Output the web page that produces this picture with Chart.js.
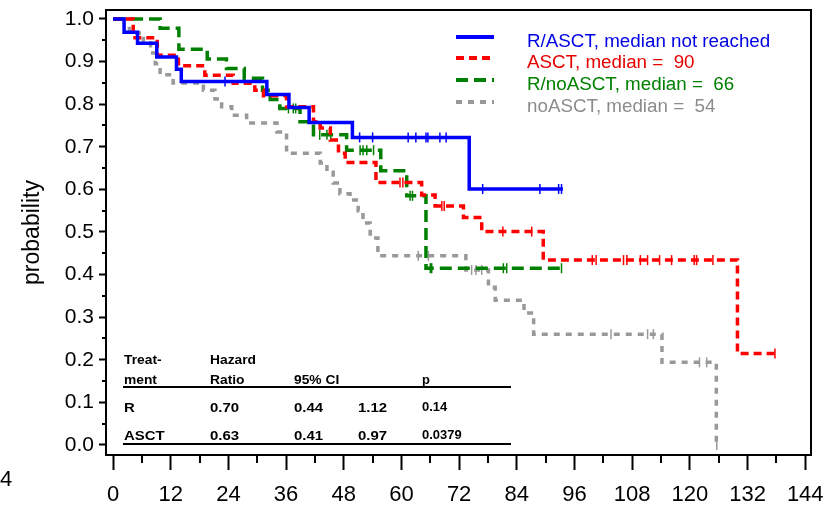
<!DOCTYPE html>
<html>
<head>
<meta charset="utf-8">
<script src="https://cdn.jsdelivr.net/npm/chart.js@4/dist/chart.umd.min.js"></script>
<style>
html,body{margin:0;padding:0;background:#fff;}
#wrap{position:relative;width:824px;height:505px;overflow:hidden;font-family:Arial,"Liberation Sans",sans-serif;}
#c{position:absolute;left:0;top:0;}
.t{position:absolute;white-space:pre;line-height:1;transform-origin:0 50%;}
.rule{position:absolute;height:2px;background:#000;}
</style>
</head>
<body>
<div id="wrap"><canvas id="c" width="824" height="505"></canvas></div>
<script>
// ---------- data (months, survival probability) ----------
const xTicks = [0, 12, 24, 36, 48, 60, 72, 84, 96, 108, 120, 132, 144];
const xMinorTicks = [6, 18, 30, 42, 54, 66, 78, 90, 102, 114, 126, 138];
const yTicks = [0.0, 0.1, 0.2, 0.3, 0.4, 0.5, 0.6, 0.7, 0.8, 0.9, 1.0];
const yMinorTicks = [0.05, 0.15, 0.25, 0.35, 0.45, 0.55, 0.65, 0.75, 0.85, 0.95];

const seriesLabels = ["R/ASCT, median not reached", "ASCT, median =  90", "R/noASCT, median =  66", "noASCT, median =  54"];

const rasctTimes = [0, 2.3, 5.1, 9.1, 13.2, 14.2, 32.0, 36.6, 40.8, 49.8, 74.1, 93.6];
const rasctSurv  = [1.0, 0.969, 0.943, 0.911, 0.882, 0.853, 0.823, 0.792, 0.757, 0.722, 0.601, 0.601];
const rasctCensor = [23.3, 51.3, 54.0, 61.4, 63.0, 65.1, 65.5, 68.0, 69.3, 76.9, 88.8, 92.7, 93.3];

const asctTimes = [0, 4.2, 9.2, 13.6, 19.1, 25.0, 29.5, 31.3, 36.1, 41.7, 43.1, 45.2, 46.9, 48.3, 54.7, 64.2, 67.0, 72.9, 76.7, 89.5, 129.9, 137.7];
const asctSurv  = [1.0, 0.956, 0.915, 0.890, 0.868, 0.849, 0.833, 0.820, 0.794, 0.759, 0.744, 0.716, 0.685, 0.663, 0.616, 0.587, 0.561, 0.534, 0.501, 0.434, 0.215, 0.215];
const asctCensor = [59.7, 60.3, 68.4, 68.9, 81.1, 87.1, 99.7, 100.5, 106.2, 106.9, 109.7, 111.2, 113.7, 116.2, 120.9, 121.4, 124.8, 137.7];

const rnoTimes = [0, 9.8, 13.7, 19.6, 23.6, 27.3, 31.1, 32.7, 34.7, 38.9, 41.7, 48.6, 55.7, 61.1, 65.1, 93.6];
const rnoSurv  = [1.0, 0.978, 0.929, 0.906, 0.884, 0.861, 0.833, 0.811, 0.790, 0.759, 0.728, 0.692, 0.644, 0.585, 0.415, 0.415];
const rnoCensor = [36.5, 37.5, 38.0, 43.0, 44.5, 45.3, 51.4, 52.0, 52.8, 54.2, 61.8, 62.3, 66.0, 66.3, 81.2, 81.9, 93.3];

const noTimes = [0, 3.4, 6.3, 7.8, 8.8, 9.8, 12.5, 18.8, 21.2, 22.6, 24.7, 27.8, 34.1, 36.1, 43.1, 44.5, 45.8, 47.2, 49.3, 51.0, 52.0, 53.5, 55.1, 73.4, 78.1, 79.5, 85.5, 87.5, 114.2, 125.5, 125.6];
const noSurv  = [1.0, 0.967, 0.944, 0.920, 0.895, 0.869, 0.850, 0.833, 0.812, 0.794, 0.774, 0.756, 0.735, 0.685, 0.662, 0.640, 0.615, 0.590, 0.575, 0.550, 0.521, 0.486, 0.444, 0.411, 0.370, 0.340, 0.310, 0.260, 0.194, 0.0, 0.0];
const noCensor = [63.5, 65.6, 74.6, 75.5, 76.7, 103.6, 111.2, 112.4, 122.0, 123.5, 125.6];

const tableHeader1 = ["Treat-", "Hazard", "", "", ""];
const tableHeader2 = ["ment", "Ratio", "95% CI", "", "p"];
const tableRowR    = ["R", "0.70", "0.44", "1.12", "0.14"];
const tableRowASCT = ["ASCT", "0.63", "0.41", "0.97", "0.0379"];

// ---------- styles ----------
const colors = ["#0000ff", "#ff0000", "#008000", "#999999"];
const textColors = ["#0000e6", "#e60000", "#008000", "#8c8c8c"];
const dashes = [[], [8, 5], [12, 6], [6, 6]];
const FONT = 'Arial, "Liberation Sans", sans-serif';

function toPts(times, surv){ return times.map((t,i)=>({x:t, y:surv[i]})); }
function survAt(times, surv, t){ let v = surv[0]; for (let i=0;i<times.length;i++){ if (times[i] <= t) v = surv[i]; } return v; }
function censorPts(times, surv, cens){ return cens.map(t=>({x:t, y:survAt(times, surv, t)})); }

const curves = [
  [rasctTimes, rasctSurv, rasctCensor],
  [asctTimes, asctSurv, asctCensor],
  [rnoTimes, rnoSurv, rnoCensor],
  [noTimes, noSurv, noCensor]
];

const datasets = [];
curves.forEach((c, i) => {
  datasets.push({
    label: seriesLabels[i],
    data: toPts(c[0], c[1]),
    stepped: true,
    borderColor: colors[i],
    borderWidth: 3.5,
    borderDash: dashes[i],
    borderCapStyle: 'butt',
    pointRadius: 0,
    fill: false,
    order: i
  });
  datasets.push({
    label: seriesLabels[i] + " censored",
    data: censorPts(c[0], c[1], c[2]),
    showLine: false,
    pointStyle: 'line',
    rotation: 90,
    pointRadius: 5,
    pointBorderWidth: 1.5,
    pointBorderColor: colors[i],
    pointBackgroundColor: colors[i],
    order: i
  });
});

const frame = {
  id: 'frame',
  afterDraw(chart){
    const {ctx, chartArea:a, scales:{x, y}} = chart;
    ctx.save();
    ctx.strokeStyle = '#000';
    ctx.lineWidth = 2;
    ctx.beginPath();
    xMinorTicks.forEach(v => { const p = Math.round(x.getPixelForValue(v)); ctx.moveTo(p, a.bottom); ctx.lineTo(p, a.bottom + 8); });
    yMinorTicks.forEach(v => { const p = Math.round(y.getPixelForValue(v)); ctx.moveTo(a.left - 4, p); ctx.lineTo(a.left, p); });
    ctx.stroke();
    ctx.strokeRect(a.left, a.top, a.right - a.left, a.bottom - a.top);
    ctx.restore();
  }
};

new Chart(document.getElementById('c'), {
  type: 'line',
  data: { datasets },
  options: {
    responsive: false,
    animation: false,
    layout: { padding: { left: 0, right: 13, top: 10, bottom: 0 } },
    plugins: { legend: { display: false }, tooltip: { enabled: false } },
    scales: {
      x: {
        type: 'linear', min: -1.46, max: 145.2,
        afterBuildTicks: s => { s.ticks = xTicks.map(v => ({ value: v })); },
        afterFit: s => { s.height = 50; s.paddingLeft = 0; s.paddingRight = 0; },
        ticks: { autoSkip: false, maxRotation: 0, padding: 12, color: '#000', font: { family: FONT, size: 22 }, callback: v => String(v) },
        grid: { drawOnChartArea: false, drawTicks: true, tickLength: 15, tickWidth: 2, tickColor: '#000' },
        border: { display: false }
      },
      y: {
        type: 'linear', min: -0.0235, max: 1.0211,
        afterBuildTicks: s => { s.ticks = yTicks.map(v => ({ value: v })); },
        afterFit: s => { s.width = 106; s.paddingTop = 0; s.paddingBottom = 0; },
        ticks: { autoSkip: false, padding: 5, color: '#000', font: { family: FONT, size: 21 }, callback: v => Number(v).toFixed(1) },
        grid: { drawOnChartArea: false, drawTicks: true, tickLength: 7, tickWidth: 2, tickColor: '#000' },
        border: { display: false },
        title: { display: true, text: 'probability', color: '#000', font: { family: FONT, size: 23 }, padding: { top: 19, bottom: 0 } }
      }
    }
  },
  plugins: [frame]
});

// ---------- HTML overlays: legend, table, panel label ----------
const wrap = document.getElementById('wrap');
function txt(s, x, cy, size, weight, color, sx){
  const d = document.createElement('div');
  d.className = 't';
  d.textContent = s;
  d.style.left = x + 'px';
  d.style.top = (cy - 0.49 * size) + 'px';
  d.style.fontSize = size + 'px';
  d.style.fontWeight = weight;
  d.style.color = color;
  if (sx) d.style.transform = 'scaleX(' + sx + ')';
  wrap.appendChild(d);
}
const legLineY = [36.5, 58, 80, 101.5];
seriesLabels.forEach((lab, i) => {
  const ns = 'http://www.w3.org/2000/svg';
  const svg = document.createElementNS(ns, 'svg');
  svg.setAttribute('width', '40'); svg.setAttribute('height', '8');
  svg.style.position = 'absolute';
  svg.style.left = '456px';
  svg.style.top = (legLineY[i] - 4) + 'px';
  const ln = document.createElementNS(ns, 'line');
  ln.setAttribute('x1', '0'); ln.setAttribute('x2', '38');
  ln.setAttribute('y1', '4'); ln.setAttribute('y2', '4');
  ln.setAttribute('stroke', colors[i]);
  ln.setAttribute('stroke-width', '4');
  if (dashes[i].length) ln.setAttribute('stroke-dasharray', dashes[i].join(' '));
  svg.appendChild(ln);
  wrap.appendChild(svg);
  txt(lab, 527, legLineY[i] + 4.5, 18.8, 'normal', textColors[i]);
});

const colX = [124, 210, 294, 358, 422];
function row(cells, cy, size, pSize){
  cells.forEach((s, j) => { if (s) txt(s, colX[j], cy, j === 4 ? pSize : size, 'bold', '#000', j === 4 ? 1.08 : 1.15); });
}
row(tableHeader1, 360, 12, 12);
row(tableHeader2, 380, 12, 12);
row(tableRowR, 407, 13, 12);
row(tableRowASCT, 435, 13, 12);
[387, 444].forEach(y => { const r = document.createElement('div'); r.className = 'rule'; r.style.left = '123px'; r.style.width = '388px'; r.style.top = (y - 1) + 'px'; wrap.appendChild(r); });

txt('4', 0, 479, 22, 'normal', '#000');
</script>
</body>
</html>
